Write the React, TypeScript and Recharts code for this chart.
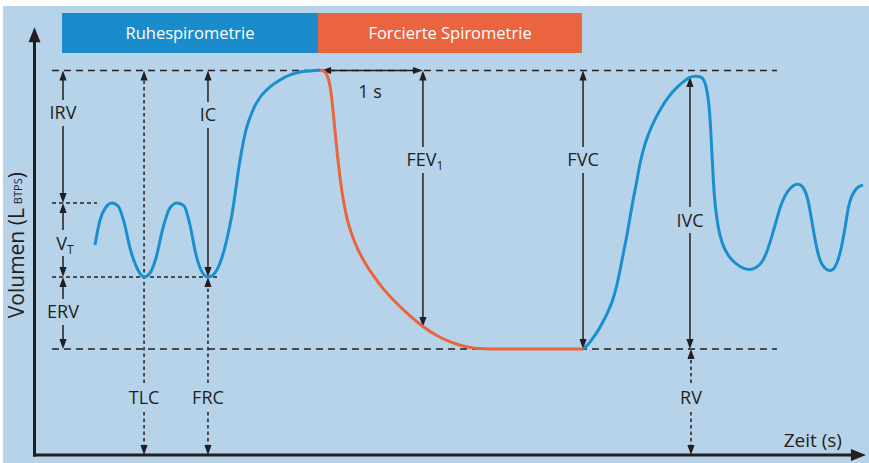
import React from 'react';
import { ComposedChart, Line, XAxis, YAxis, ReferenceLine, ReferenceArea } from 'recharts';

// ---- data: time in s, volume in L ----
type Pt = { t: number; v: number };

const restingAndInspiration: Pt[] = [
  { t: 0.598, v: 3.277 }, { t: 0.648, v: 3.667 }, { t: 0.707, v: 3.87 }, { t: 0.766, v: 3.933 },
  { t: 0.826, v: 3.886 }, { t: 0.885, v: 3.636 }, { t: 0.944, v: 3.23 }, { t: 1.013, v: 2.918 },
  { t: 1.083, v: 2.778 }, { t: 1.142, v: 2.84 }, { t: 1.201, v: 3.074 }, { t: 1.27, v: 3.542 },
  { t: 1.339, v: 3.855 }, { t: 1.409, v: 3.933 }, { t: 1.478, v: 3.886 }, { t: 1.537, v: 3.589 },
  { t: 1.597, v: 3.121 }, { t: 1.656, v: 2.856 }, { t: 1.715, v: 2.778 }, { t: 1.775, v: 2.825 },
  { t: 1.834, v: 2.996 }, { t: 1.893, v: 3.308 }, { t: 1.953, v: 3.761 }, { t: 2.032, v: 4.604 },
  { t: 2.091, v: 5.072 }, { t: 2.16, v: 5.384 }, { t: 2.239, v: 5.602 }, { t: 2.328, v: 5.743 },
  { t: 2.427, v: 5.852 }, { t: 2.526, v: 5.93 }, { t: 2.625, v: 5.977 }, { t: 2.724, v: 5.993 },
  { t: 2.823, v: 6.008 },
];

const forcedExpiration: Pt[] = [
  { t: 2.823, v: 6.008 }, { t: 2.862, v: 5.993 }, { t: 2.892, v: 5.946 }, { t: 2.921, v: 5.79 },
  { t: 2.941, v: 5.54 }, { t: 2.961, v: 5.228 }, { t: 2.981, v: 4.885 }, { t: 3.01, v: 4.448 },
  { t: 3.05, v: 3.979 }, { t: 3.099, v: 3.605 }, { t: 3.169, v: 3.293 }, { t: 3.248, v: 3.043 },
  { t: 3.337, v: 2.825 }, { t: 3.445, v: 2.591 }, { t: 3.564, v: 2.388 }, { t: 3.702, v: 2.185 },
  { t: 3.84, v: 1.998 }, { t: 3.979, v: 1.857 }, { t: 4.108, v: 1.763 }, { t: 4.226, v: 1.701 },
  { t: 4.355, v: 1.662 }, { t: 4.503, v: 1.654 }, { t: 5.423, v: 1.654 },
];

const inspiratoryVC: Pt[] = [
  { t: 5.423, v: 1.654 }, { t: 5.472, v: 1.717 }, { t: 5.522, v: 1.826 }, { t: 5.571, v: 1.935 },
  { t: 5.62, v: 2.076 }, { t: 5.67, v: 2.232 }, { t: 5.719, v: 2.419 }, { t: 5.759, v: 2.653 },
  { t: 5.789, v: 2.887 }, { t: 5.828, v: 3.199 }, { t: 5.858, v: 3.433 }, { t: 5.888, v: 3.714 },
  { t: 5.917, v: 3.979 }, { t: 5.957, v: 4.292 }, { t: 5.987, v: 4.573 }, { t: 6.036, v: 4.869 },
  { t: 6.085, v: 5.072 }, { t: 6.135, v: 5.243 }, { t: 6.184, v: 5.384 }, { t: 6.263, v: 5.587 },
  { t: 6.352, v: 5.743 }, { t: 6.422, v: 5.836 }, { t: 6.481, v: 5.899 }, { t: 6.53, v: 5.914 },
  { t: 6.58, v: 5.907 }, { t: 6.619, v: 5.868 }, { t: 6.649, v: 5.696 }, { t: 6.669, v: 5.462 },
  { t: 6.683, v: 5.15 }, { t: 6.698, v: 4.682 }, { t: 6.713, v: 4.213 }, { t: 6.728, v: 3.901 },
  { t: 6.758, v: 3.542 }, { t: 6.797, v: 3.293 }, { t: 6.856, v: 3.105 }, { t: 6.945, v: 2.965 },
  { t: 7.014, v: 2.903 }, { t: 7.074, v: 2.887 }, { t: 7.133, v: 2.918 }, { t: 7.192, v: 2.996 },
  { t: 7.242, v: 3.168 }, { t: 7.281, v: 3.371 }, { t: 7.331, v: 3.636 }, { t: 7.37, v: 3.87 },
  { t: 7.42, v: 4.057 }, { t: 7.469, v: 4.167 }, { t: 7.538, v: 4.245 }, { t: 7.598, v: 4.198 },
  { t: 7.637, v: 4.057 }, { t: 7.667, v: 3.823 }, { t: 7.696, v: 3.542 }, { t: 7.736, v: 3.199 },
  { t: 7.766, v: 3.027 }, { t: 7.805, v: 2.918 }, { t: 7.865, v: 2.856 }, { t: 7.914, v: 2.918 },
  { t: 7.954, v: 3.074 }, { t: 7.993, v: 3.355 }, { t: 8.023, v: 3.636 }, { t: 8.043, v: 3.855 },
  { t: 8.072, v: 4.026 }, { t: 8.112, v: 4.135 }, { t: 8.151, v: 4.198 }, { t: 8.191, v: 4.213 },
];

const phases = [
  { name: 'Ruhespirometrie', start: 0.272, end: 2.803, top: 6.898, bottom: 6.273, color: '#1b8ccb' },
  { name: 'Forcierte Spirometrie', start: 2.803, end: 5.413, top: 6.898, bottom: 6.273, color: '#ea6440' },
];

const levelLines = [
  { name: 'TLC', v: 6.0, from: 0.173, to: 7.34, dash: '7 5' },
  { name: 'RV', v: 1.654, from: 0.173, to: 7.34, dash: '7 5' },
  { name: 'FRC', v: 2.778, from: 0.173, to: 1.814, dash: '4 3' },
  { name: 'VTtop', v: 3.933, from: 0.173, to: 0.618, dash: '4 3' },
];

const volumeArrows = [
  { label: 'IRV', sub: '', t: 0.282, from: 3.933, to: 6.0, at: 5.337, dotted: false },
  { label: 'V', sub: 'T', t: 0.282, from: 2.778, to: 3.933, at: 3.308, dotted: false },
  { label: 'ERV', sub: '', t: 0.282, from: 1.654, to: 2.778, at: 2.232, dotted: false },
  { label: 'TLC', sub: '', t: 1.083, from: 0, to: 6.0, at: 0.905, dotted: true },
  { label: 'IC', sub: '', t: 1.715, from: 2.778, to: 6.0, at: 5.306, dotted: false },
  { label: 'FRC', sub: '', t: 1.715, from: 0, to: 2.778, at: 0.905, dotted: true },
  { label: 'FEV', sub: '1', t: 3.84, from: 1.998, to: 6.0, at: 4.604, dotted: false },
  { label: 'FVC', sub: '', t: 5.423, from: 1.654, to: 6.0, at: 4.604, dotted: false },
  { label: 'IVC', sub: '', t: 6.48, from: 1.654, to: 5.899, at: 3.667, dotted: false },
  { label: 'RV', sub: '', t: 6.49, from: 0, to: 1.654, at: 0.905, dotted: true },
];

const timeArrow = { label: '1 s', from: 2.833, to: 3.84, v: 6.0, labelT: 3.317, labelV: 5.665 };
const axisTips = { t: 8.22, v: 6.674 };
const axisTitles = { x: 'Zeit (s)', y: 'Volumen (L', ySub: 'BTPS', yEnd: ')' };

// ---- styling ----
const W = 869;
const H = 463;
const BG = '#b7d3ea';
const INK = '#231f20';
const BLUE = '#1a8fd0';
const ORANGE = '#ea6440';
const FONT = '"Open Sans", "Noto Sans", sans-serif';

function head(x: number, y: number, dx: number, dy: number, len: number, hw: number) {
  const bx = x - dx * len;
  const by = y - dy * len;
  const px = -dy;
  const py = dx;
  return `${x},${y} ${bx + px * hw},${by + py * hw} ${bx - px * hw},${by - py * hw}`;
}

function doubleArrow(x1: number, y1: number, x2: number, y2: number, dash?: string) {
  const L = Math.hypot(x2 - x1, y2 - y1) || 1;
  const dx = (x2 - x1) / L;
  const dy = (y2 - y1) / L;
  const len = 10;
  const hw = 3.6;
  return (
    <g>
      <line
        x1={x1 + dx * len * 0.7}
        y1={y1 + dy * len * 0.7}
        x2={x2 - dx * len * 0.7}
        y2={y2 - dy * len * 0.7}
        stroke={INK}
        strokeWidth={1.5}
        strokeDasharray={dash}
      />
      <polygon points={head(x2, y2, dx, dy, len, hw)} fill={INK} />
      <polygon points={head(x1, y1, -dx, -dy, len, hw)} fill={INK} />
    </g>
  );
}

function labelText(x: number, y: number, label: string, sub: string) {
  return (
    <text x={x} y={y + 6.5} textAnchor="middle" fontSize={18} fontFamily={FONT} fill={INK}>
      {label}
      {sub ? (
        <tspan fontSize={12} dy={4}>
          {sub}
        </tspan>
      ) : null}
    </text>
  );
}

const makeVolumeArrowShape = (a: (typeof volumeArrows)[number]) => (p: any) => {
  const { x1, y1, x2, y2 } = p;
  const frac = (a.at - a.from) / (a.to - a.from);
  const ly = y1 + frac * (y2 - y1);
  const chars = a.label.length + (a.sub ? 0.6 : 0);
  const w = chars * 11 + 6;
  return (
    <g>
      {doubleArrow(x1, y1, x2, y2, a.dotted ? '3.5 3' : undefined)}
      <rect x={x1 - w / 2} y={ly - 13} width={w} height={26} fill={BG} />
      {labelText(x1 + (a.sub ? 2 : 0), ly, a.label, a.sub)}
    </g>
  );
};

const timeArrowShape = (p: any) => {
  const { x1, y1, x2, y2 } = p;
  return <g>{doubleArrow(x1, y1, x2, y2)}</g>;
};

const xAxisShape = (p: any) => {
  const { x1, y1, x2, y2 } = p;
  return (
    <g>
      <line x1={x1 - 1.5} y1={y1} x2={x2 - 10} y2={y2} stroke={INK} strokeWidth={3} />
      <polygon points={head(x2, y2, 1, 0, 15, 6)} fill={INK} />
      <text x={x2 - 24} y={y1 - 8} textAnchor="end" fontSize={19} fontFamily={FONT} fill={INK}>
        {axisTitles.x}
      </text>
    </g>
  );
};

const yAxisShape = (p: any) => {
  const { x1, y1, x2, y2 } = p;
  const cy = (y1 + y2) / 2 + 4;
  const cx = x1 - 10.5;
  return (
    <g>
      <line x1={x1} y1={y1 + 1.5} x2={x2} y2={y2 + 10} stroke={INK} strokeWidth={3} />
      <polygon points={head(x2, y2, 0, -1, 15, 6)} fill={INK} />
      <text
        x={cx}
        y={cy}
        transform={`rotate(-90 ${cx} ${cy})`}
        textAnchor="middle"
        fontSize={21}
        fontFamily={FONT}
        fill={INK}
      >
        {axisTitles.y}
        <tspan fontSize={11} dx={4} dy={-2}>
          {axisTitles.ySub}
        </tspan>
        <tspan dy={2}>{axisTitles.yEnd}</tspan>
      </text>
    </g>
  );
};

export default function App() {
  return (
    <div style={{ position: 'absolute', left: 0, top: 0, width: W, height: H, background: '#ffffff' }}>
      <div style={{ position: 'absolute', left: 3, top: 6, width: W - 3, height: H - 6, background: BG }} />
      <div style={{ position: 'absolute', left: 0, top: 0 }}>
        <ComposedChart width={W} height={H} margin={{ top: 0, right: 0, bottom: 8, left: 34.5 }}>
          <XAxis type="number" dataKey="t" domain={[0, 8.25]} hide allowDataOverflow />
          <YAxis type="number" dataKey="v" domain={[0, 7.1]} hide allowDataOverflow />

          {phases.map((ph) => (
            <ReferenceArea
              key={ph.name}
              x1={ph.start}
              x2={ph.end}
              y1={ph.bottom}
              y2={ph.top}
              fill={ph.color}
              fillOpacity={1}
              stroke="none"
              ifOverflow="visible"
              label={{
                value: ph.name,
                position: 'center',
                fill: '#ffffff',
                fontSize: 16.5,
                fontFamily: FONT,
              }}
            />
          ))}

          {levelLines.map((l) => (
            <ReferenceLine
              key={l.name}
              segment={[{ x: l.from, y: l.v }, { x: l.to, y: l.v }]}
              stroke={INK}
              strokeWidth={1.5}
              strokeDasharray={l.dash}
              ifOverflow="visible"
            />
          ))}

          {volumeArrows.map((a) => (
            <ReferenceLine
              key={a.label + a.t}
              segment={[{ x: a.t, y: a.from }, { x: a.t, y: a.to }]}
              ifOverflow="visible"
              shape={makeVolumeArrowShape(a)}
            />
          ))}

          <ReferenceLine
            segment={[{ x: timeArrow.from, y: timeArrow.v }, { x: timeArrow.to, y: timeArrow.v }]}
            ifOverflow="visible"
            shape={timeArrowShape}
          />
          <ReferenceLine
            segment={[{ x: timeArrow.labelT, y: timeArrow.labelV }, { x: timeArrow.labelT, y: timeArrow.labelV }]}
            ifOverflow="visible"
            shape={(p: any) => labelText(p.x1, p.y1, timeArrow.label, '')}
          />

          <ReferenceLine
            segment={[{ x: 0, y: 0 }, { x: axisTips.t, y: 0 }]}
            ifOverflow="visible"
            shape={xAxisShape}
          />
          <ReferenceLine
            segment={[{ x: 0, y: 0 }, { x: 0, y: axisTips.v }]}
            ifOverflow="visible"
            shape={yAxisShape}
          />

          <Line
            data={restingAndInspiration}
            dataKey="v"
            type="monotone"
            stroke={BLUE}
            strokeWidth={3}
            dot={false}
            activeDot={false}
            isAnimationActive={false}
          />
          <Line
            data={forcedExpiration}
            dataKey="v"
            type="basis"
            stroke={ORANGE}
            strokeWidth={3}
            dot={false}
            activeDot={false}
            isAnimationActive={false}
          />
          <Line
            data={inspiratoryVC}
            dataKey="v"
            type="basis"
            stroke={BLUE}
            strokeWidth={3}
            dot={false}
            activeDot={false}
            isAnimationActive={false}
          />
        </ComposedChart>
      </div>
    </div>
  );
}
